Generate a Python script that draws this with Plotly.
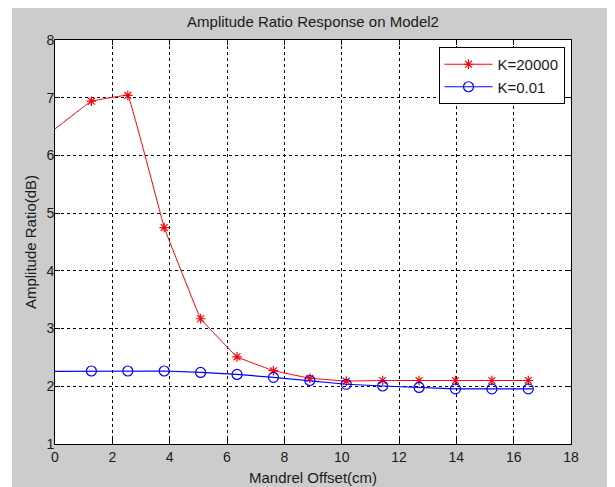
import plotly.graph_objects as go

# ---- data ----
x_pts = [1.27, 2.54, 3.81, 5.08, 6.35, 7.62, 8.89, 10.16, 11.43, 12.70, 13.97, 15.24, 16.51]
k20000 = [6.94, 7.04, 4.75, 3.17, 2.51, 2.27, 2.14, 2.09, 2.10, 2.10, 2.10, 2.10, 2.10]
k001 = [2.265, 2.265, 2.265, 2.24, 2.205, 2.155, 2.10, 2.035, 2.005, 1.98, 1.955, 1.955, 1.955]

# curve ends (line continues past markers in the picture)
x_start, x_end = 0.0, 16.66
k20000_start, k20000_end = 6.46, 2.10
k001_start, k001_end = 2.26, 1.955

x_ticks = [0, 2, 4, 6, 8, 10, 12, 14, 16, 18]
y_ticks = [1, 2, 3, 4, 5, 6, 7, 8]

title_text = "Amplitude Ratio Response on Model2"
x_title = "Mandrel Offset(cm)"
y_title = "Amplitude Ratio(dB)"

RED = "#ff0000"
BLUE = "#0000ff"
TXT = "#1a1a1a"
FONT = "Liberation Sans, Arial, sans-serif"

red_marker = dict(symbol="asterisk-open", size=8, color=RED, line=dict(color=RED, width=1.2))
blue_marker = dict(symbol="circle-open", size=10, color=BLUE, line=dict(color=BLUE, width=1.2))

fig = go.Figure()

# red curve + markers
fig.add_trace(go.Scatter(
    x=[x_start] + x_pts + [x_end], y=[k20000_start] + k20000 + [k20000_end],
    mode="lines", line=dict(color=RED, width=1, shape="spline", smoothing=0.12),
    showlegend=False, hoverinfo="skip"))
fig.add_trace(go.Scatter(
    x=x_pts, y=k20000, mode="markers", name="K=20000",
    marker=red_marker, showlegend=False))

# blue curve + markers
fig.add_trace(go.Scatter(
    x=[x_start] + x_pts + [x_end], y=[k001_start] + k001 + [k001_end],
    mode="lines", line=dict(color=BLUE, width=1.2),
    showlegend=False, hoverinfo="skip"))
fig.add_trace(go.Scatter(
    x=x_pts, y=k001, mode="markers", name="K=0.01",
    marker=blue_marker, showlegend=False))

# legend entries (line + marker)
fig.add_trace(go.Scatter(
    x=[None], y=[None], mode="lines+markers", name="K=20000",
    line=dict(color=RED, width=1), marker=red_marker, legendrank=1))
fig.add_trace(go.Scatter(
    x=[None], y=[None], mode="lines+markers", name="K=0.01",
    line=dict(color=BLUE, width=1.2), marker=blue_marker, legendrank=2))

axis_common = dict(
    showline=True, linecolor="black", linewidth=1, mirror="ticks",
    ticks="inside", ticklen=5, tickcolor="black", tickwidth=1,
    showgrid=True, gridcolor="black", gridwidth=1, griddash="3px,3px",
    zeroline=False, automargin=False,
    tickfont=dict(family=FONT, size=14, color=TXT),
)

fig.update_xaxes(range=[0, 18], tickvals=x_ticks, ticktext=[str(v) for v in x_ticks],
                 title=dict(text=x_title, font=dict(family=FONT, size=15, color=TXT), standoff=8),
                 **axis_common)
fig.update_yaxes(range=[1, 8], tickvals=y_ticks, ticktext=[str(v) for v in y_ticks],
                 title=dict(text=y_title, font=dict(family=FONT, size=15, color=TXT), standoff=6),
                 ticklabelstandoff=-3, **axis_common)

# the page shows the figure offset by 8px (body margin); layout is in figure pixels
OFF = 8
W, H = 615, 487
L, T = 55 - OFF, 40 - OFF
R, B = W - (571.5 - OFF), H - (444.5 - OFF)
pw, ph = W - L - R, H - T - B

# grey figure background with white strip at the left like the screenshot
fig.add_shape(type="rect", xref="paper", yref="paper", layer="below",
              x0=(12 - OFF - L) / pw, x1=(W - L) / pw, y0=-B / ph, y1=(ph + T) / ph,
              fillcolor="#cccccc", line=dict(width=0))
fig.add_shape(type="rect", xref="paper", yref="paper", layer="below",
              x0=0, x1=1, y0=0, y1=1, fillcolor="white", line=dict(width=0))

fig.update_layout(
    width=W, height=H,
    margin=dict(l=L, r=R, t=T, b=B, pad=0, autoexpand=False),
    paper_bgcolor="white", plot_bgcolor="white",
    title=dict(text=title_text, x=0.5, xref="paper", y=1 - (22 - OFF) / H, yref="container",
               xanchor="center", yanchor="middle", font=dict(family=FONT, size=15, color=TXT)),
    legend=dict(x=(565 - OFF - L) / pw, y=1 - (47 - OFF - T) / ph, xanchor="right", yanchor="top",
                bgcolor="white", bordercolor="black", borderwidth=1, itemwidth=48,
                font=dict(family=FONT, size=15, color=TXT), tracegroupgap=0),
    showlegend=True,
)

fig.write_html("out.html")
